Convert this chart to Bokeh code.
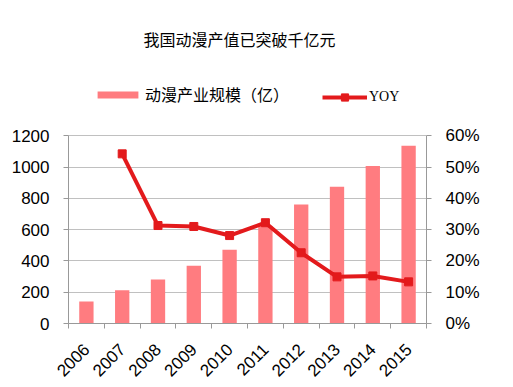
from bokeh.plotting import figure
from bokeh.models import (Range1d, LinearAxis, FixedTicker, NumeralTickFormatter,
                          Legend, LegendItem, ColumnDataSource, Label)
from bokeh.embed import file_html
from bokeh.resources import INLINE
import math

title_text = "我国动漫产值已突破千亿元"
years = ["2006", "2007", "2008", "2009", "2010", "2011", "2012", "2013", "2014", "2015"]
scale_values = [141, 213, 281, 369, 471, 622, 761, 874, 1006, 1136]
yoy_years = ["2007", "2008", "2009", "2010", "2011", "2012", "2013", "2014", "2015"]
yoy_values = [0.542, 0.313, 0.310, 0.281, 0.322, 0.226, 0.149, 0.152, 0.133]
bar_label = "动漫产业规模（亿）"
line_label = "YOY"
left_ticks = [0, 200, 400, 600, 800, 1000, 1200]
right_ticks = [0, 0.1, 0.2, 0.3, 0.4, 0.5, 0.6]

BAR = "#FF7C80"
LINE = "#E31A1C"
AXIS = "#999999"
CJK = "Noto Sans CJK SC"
LAT = "Liberation Sans"

idx = {y: i for i, y in enumerate(years)}
bar_src = ColumnDataSource(dict(x=[idx[y] for y in years], top=scale_values))
line_src = ColumnDataSource(dict(x=[idx[y] for y in yoy_years], y=yoy_values))

# the frame reaches up to the title area; axes are bounded to the data span
p = figure(width=505, height=385, frame_width=358, frame_height=313,
           output_backend="svg", toolbar_location=None,
           x_range=Range1d(-0.5, len(years) - 0.5), y_range=Range1d(0, 2000),
           min_border_left=68, min_border_right=79, min_border_top=10, min_border_bottom=62)
p.outline_line_color = None
p.background_fill_color = "white"
p.border_fill_color = "white"
p.extra_y_ranges = {"pct": Range1d(0, 1.0)}

# grid
p.xgrid.visible = False
p.ygrid.grid_line_color = "#808080"
p.ygrid.grid_line_dash = "1 1"
p.ygrid.ticker = FixedTicker(ticks=left_ticks)

bars = p.vbar(x="x", top="top", width=0.4, source=bar_src, fill_color=BAR, line_color=None)
line = p.line(x="x", y="y", source=line_src, y_range_name="pct", line_color=LINE, line_width=4)
marks = p.scatter(x="x", y="y", source=line_src, y_range_name="pct", marker="square",
                  size=8, fill_color=LINE, line_color=LINE)

# x axis
xa = p.xaxis[0]
xa.ticker = FixedTicker(ticks=list(range(len(years))),
                        minor_ticks=[i - 0.5 for i in range(len(years) + 1)])
xa.major_label_overrides = {i: y for i, y in enumerate(years)}
xa.major_tick_out = 0
xa.major_tick_in = 0
xa.minor_tick_out = 5
xa.minor_tick_in = 0
xa.minor_tick_line_color = AXIS
xa.axis_line_color = AXIS
xa.major_label_orientation = math.pi / 4
xa.major_label_text_font = LAT
xa.major_label_text_font_size = "17px"
xa.major_label_text_color = "black"
xa.major_label_standoff = 18

# left axis
ya = p.yaxis[0]
ya.ticker = FixedTicker(ticks=left_ticks)
ya.bounds = (0, 1200)
ya.major_tick_out = 5
ya.major_tick_in = 0
ya.minor_tick_line_color = None
ya.major_tick_line_color = AXIS
ya.axis_line_color = AXIS
ya.major_label_text_font = LAT
ya.major_label_text_font_size = "17px"
ya.major_label_text_color = "black"
ya.major_label_standoff = 14

# right axis
ra = LinearAxis(y_range_name="pct", ticker=FixedTicker(ticks=right_ticks),
                formatter=NumeralTickFormatter(format="0%"), bounds=(0, 0.6))
ra.major_tick_out = 5
ra.major_tick_in = 0
ra.minor_tick_line_color = None
ra.major_tick_line_color = AXIS
ra.axis_line_color = AXIS
ra.major_label_text_font = LAT
ra.major_label_text_font_size = "17px"
ra.major_label_text_color = "black"
ra.major_label_standoff = 14
p.add_layout(ra, "right")

# title
p.add_layout(Label(x=171, y=285, x_units="screen", y_units="screen", text=title_text,
                   text_align="center", text_baseline="middle", text_font=CJK,
                   text_font_size="16px", text_color="black"))

# legends (area legend glyphs are inset by 10% on each side)
leg1 = Legend(items=[LegendItem(label=bar_label, renderers=[bars])],
              location=(24, 217), glyph_width=51, glyph_height=9, label_standoff=2,
              padding=0, margin=0, border_line_color=None, background_fill_alpha=0,
              label_text_font="Liberation Serif, Noto Sans CJK SC",
              label_text_font_size="16px", label_text_color="black")
leg2 = Legend(items=[LegendItem(label=line_label, renderers=[line, marks])],
              location=(254, 217), glyph_width=45, glyph_height=18, label_standoff=2,
              padding=0, margin=0, border_line_color=None, background_fill_alpha=0,
              label_text_font="Liberation Serif",
              label_text_font_size="14px", label_text_color="black")
p.add_layout(leg1, "center")
p.add_layout(leg2, "center")

open("out.html", "w").write(file_html(p, INLINE))
